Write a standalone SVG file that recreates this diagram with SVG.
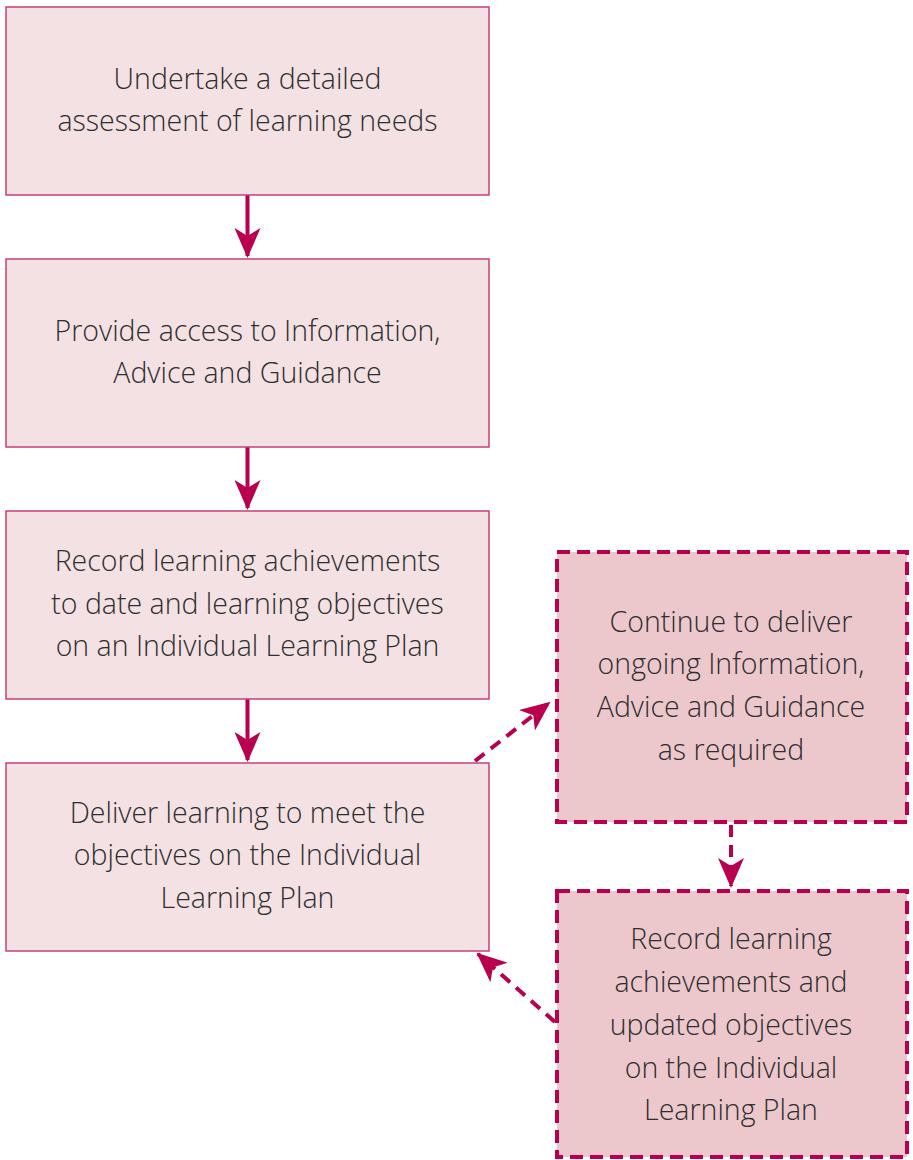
<svg xmlns="http://www.w3.org/2000/svg" width="913" height="1160" viewBox="0 0 913 1160">
<defs>
<style>
.box{fill:#f4e1e3;stroke:#c4427a;stroke-width:1.5}
.dbox{fill:#ecc8cc;stroke:#b8004f;stroke-width:4;stroke-dasharray:13 7}
.t{font-family:"Open Sans",sans-serif;font-weight:300;font-size:28.5px;fill:#2e2e2e;text-anchor:middle}
.c{stroke:#b8004f;stroke-width:4;fill:none}
.d{stroke-dasharray:12 8}
</style>
<marker id="ah" viewBox="0 0 30 26" refX="28" refY="13" markerWidth="30" markerHeight="26" markerUnits="userSpaceOnUse" orient="auto">
<path d="M0,0 L30,13 L0,26 L8,13 Z" fill="#b8004f"/>
</marker>
</defs>
<g id="connectors">
<line class="c" x1="247.5" y1="195" x2="247.5" y2="256" marker-end="url(#ah)"/>
<line class="c" x1="247.5" y1="447" x2="247.5" y2="508" marker-end="url(#ah)"/>
<line class="c" x1="247.5" y1="699" x2="247.5" y2="760" marker-end="url(#ah)"/>
<line class="c d" x1="475" y1="761" x2="549" y2="703" marker-end="url(#ah)"/>
<line class="c d" x1="731" y1="825" x2="731" y2="886" marker-end="url(#ah)"/>
<line class="c d" x1="555" y1="1022" x2="478" y2="954" marker-end="url(#ah)"/>
</g>
<g id="n1">
<rect class="box" x="6" y="7" width="483" height="188"/>
<text class="t" x="247.5" y="89">Undertake a detailed</text>
<text class="t" x="247.5" y="131">assessment of learning needs</text>
</g>
<g id="n2">
<rect class="box" x="6" y="259" width="483" height="188"/>
<text class="t" x="247.5" y="341">Provide access to Information,</text>
<text class="t" x="247.5" y="383">Advice and Guidance</text>
</g>
<g id="n3">
<rect class="box" x="6" y="511" width="483" height="188"/>
<text class="t" x="247.5" y="571">Record learning achievements</text>
<text class="t" x="247.5" y="614">to date and learning objectives</text>
<text class="t" x="247.5" y="656">on an Individual Learning Plan</text>
</g>
<g id="n4">
<rect class="box" x="6" y="763" width="483" height="188"/>
<text class="t" x="247.5" y="823">Deliver learning to meet the</text>
<text class="t" x="247.5" y="865">objectives on the Individual</text>
<text class="t" x="247.5" y="908">Learning Plan</text>
</g>
<g id="n5">
<rect class="dbox" x="557" y="552" width="350" height="270"/>
<text class="t" x="731" y="632">Continue to deliver</text>
<text class="t" x="731" y="674">ongoing Information,</text>
<text class="t" x="731" y="717">Advice and Guidance</text>
<text class="t" x="731" y="760">as required</text>
</g>
<g id="n6">
<rect class="dbox" x="557" y="891" width="350" height="266"/>
<text class="t" x="731" y="949">Record learning</text>
<text class="t" x="731" y="992">achievements and</text>
<text class="t" x="731" y="1035">updated objectives</text>
<text class="t" x="731" y="1078">on the Individual</text>
<text class="t" x="731" y="1120">Learning Plan</text>
</g>
</svg>
